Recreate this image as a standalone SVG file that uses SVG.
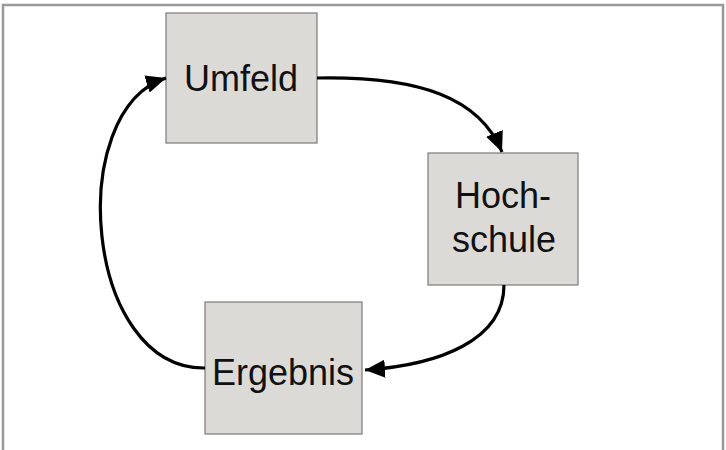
<svg xmlns="http://www.w3.org/2000/svg" width="726" height="450" viewBox="0 0 726 450">
<style>
.box{fill:#dcdad7;stroke:#7a7a7a;stroke-width:1.2}
.lbl{font-family:"Liberation Sans",Arial,sans-serif;font-size:36px;fill:#111}
.con{fill:none;stroke:#000;stroke-width:3.2}
</style>
<defs>
<marker id="ah" markerUnits="userSpaceOnUse" markerWidth="22" markerHeight="18" refX="20" refY="9" orient="auto">
<path d="M0,0 L20,9 L0,18 Z" fill="#000"/>
</marker>
</defs>
<rect x="0" y="0" width="726" height="450" fill="#fff"/>
<rect x="3" y="5" width="720" height="470" fill="none" stroke="#999" stroke-width="2.5"/>
<g id="umfeld">
<rect class="box" x="166" y="13" width="151" height="130"/>
<text class="lbl" x="184" y="91">Umfeld</text>
</g>
<g id="hochschule">
<rect class="box" x="428" y="153" width="150" height="132"/>
<text class="lbl" x="455" y="208">Hoch-</text>
<text class="lbl" x="452" y="252">schule</text>
</g>
<g id="ergebnis">
<rect class="box" x="205" y="302" width="157" height="132"/>
<text class="lbl" x="212" y="385">Ergebnis</text>
</g>
<g id="connectors">
<path class="con" marker-end="url(#ah)" d="M317,78 C420,76 480,98 502,152"/>
<path class="con" marker-end="url(#ah)" d="M504,285 C504,340 440,365 365,370"/>
<path class="con" marker-end="url(#ah)" d="M205,368 C84,370 64,110 166,78"/>
</g>
</svg>
